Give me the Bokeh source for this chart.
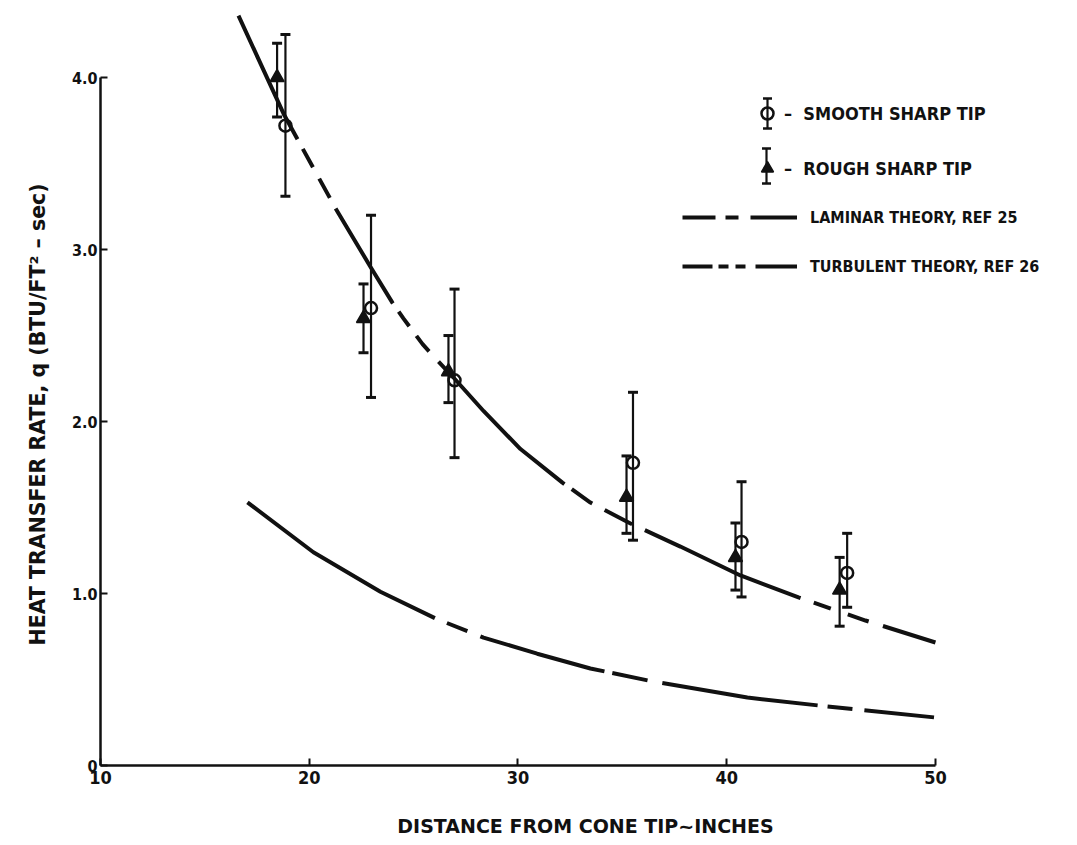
import numpy as np
from bokeh.plotting import figure
from bokeh.models import Range1d, FixedTicker, Legend, LegendItem, Arrow, TeeHead, Title
from bokeh.embed import file_html
from bokeh.resources import INLINE

# ---------------- data ----------------
smooth_x = [18.86, 22.96, 26.96, 35.51, 40.71, 45.77]
smooth_y = [3.72, 2.66, 2.24, 1.76, 1.30, 1.12]
smooth_hi = [4.25, 3.20, 2.77, 2.17, 1.65, 1.35]
smooth_lo = [3.31, 2.14, 1.79, 1.31, 0.98, 0.92]

rough_x = [18.46, 22.60, 26.67, 35.20, 40.42, 45.41]
rough_y = [4.00, 2.60, 2.29, 1.56, 1.21, 1.02]
rough_hi = [4.20, 2.80, 2.50, 1.80, 1.41, 1.21]
rough_lo = [3.77, 2.40, 2.11, 1.35, 1.02, 0.81]

turb_x = [16.61, 18.77, 19.49, 21.26, 22.93, 23.99, 24.51, 25.43, 26.14, 26.91, 28.36,
          30.12, 32.13, 33.47, 35.39, 37.78, 40.66, 43.44, 46.65, 50.0]
turb_y = [4.36, 3.79, 3.63, 3.24, 2.90, 2.69, 2.60, 2.45, 2.355, 2.256, 2.06,
          1.84, 1.645, 1.529, 1.407, 1.273, 1.105, 0.977, 0.843, 0.715]

lam_x = [17.04, 20.20, 23.41, 26.05, 28.35, 30.92, 33.47, 36.25, 40.99, 44.40, 50.0]
lam_y = [1.53, 1.24, 1.01, 0.855, 0.744, 0.65, 0.564, 0.494, 0.395, 0.349, 0.279]

x_ticks = [10, 20, 30, 40, 50]
y_ticks = [0, 1, 2, 3, 4]
y_tick_labels = {0: "0", 1: "1.0", 2: "2.0", 3: "3.0", 4: "4.0"}

FONT_C = "DejaVu Sans Condensed"
FONT = "DejaVu Sans"
INK = "#111111"

# dash sequences
TURB_DASH = "137 11 21 13 22 12 111 10 18 12 20 14 176 9 25 14 31 14 170 14 18 18 22 15 60 10"
LAM_DASH = "221 13 22 14 129 8 36 15 157 10 25 12 70 10"

p = figure(width=1077, height=845, x_range=Range1d(10, 56.47), y_range=Range1d(0, 4.419),
           output_backend="svg", toolbar_location=None,
           min_border_left=100, min_border_right=7, min_border_top=5, min_border_bottom=80)
p.outline_line_color = None
p.xgrid.visible = False
p.ygrid.visible = False
p.background_fill_color = "white"
p.border_fill_color = "white"

for ax in (p.xaxis[0], p.yaxis[0]):
    ax.axis_line_width = 2.5
    ax.axis_line_color = INK
    ax.major_tick_line_width = 2
    ax.major_tick_line_color = INK
    ax.major_tick_in = 7
    ax.major_tick_out = 0
    ax.minor_tick_line_color = None
    ax.major_label_text_font = FONT_C
    ax.major_label_text_font_style = "bold"
    ax.major_label_text_color = INK
    ax.axis_label_text_font = FONT
    ax.axis_label_text_font_style = "bold"
    ax.axis_label_text_color = INK

p.xaxis.major_label_text_font_size = "18px"
p.yaxis.major_label_text_font_size = "16px"
p.xaxis.bounds = (10, 50)
p.yaxis.bounds = (0, 4)
p.xaxis.ticker = FixedTicker(ticks=x_ticks)
p.yaxis.ticker = FixedTicker(ticks=y_ticks)
p.yaxis.major_label_overrides = y_tick_labels
p.xaxis.major_label_standoff = 5
p.yaxis.major_label_standoff = 3
p.xaxis.axis_label = "DISTANCE FROM CONE TIP~INCHES"
p.xaxis.axis_label_text_font_size = "19px"
p.xaxis.axis_label_standoff = 28

# y axis title as a side title (sits lower than the frame centre, like the reference)
p.add_layout(Title(text="HEAT TRANSFER RATE, q (BTU/FT\u00b2 \u2013 sec)",
                   align="left", offset=120, standoff=38,
                   text_font=FONT, text_font_style="bold", text_font_size="20.5px",
                   text_color=INK), "left")

# theory curves
p.line(turb_x, turb_y, line_width=4, line_color=INK, line_dash=TURB_DASH)
p.line(lam_x, lam_y, line_width=4, line_color=INK, line_dash=LAM_DASH)

# error bars
p.segment(rough_x, rough_lo, rough_x, rough_hi, line_width=2.2, line_color=INK)
p.segment(smooth_x, smooth_lo, smooth_x, smooth_hi, line_width=2.2, line_color=INK)
p.scatter(rough_x + rough_x, rough_lo + rough_hi, marker="dash", size=10, line_width=3, line_color=INK)
p.scatter(smooth_x + smooth_x, smooth_lo + smooth_hi, marker="dash", size=10, line_width=3, line_color=INK)

# markers
tri = p.scatter(rough_x, rough_y, marker="triangle", size=14, fill_color=INK, line_color=INK, line_width=1.5)
circ = p.scatter(smooth_x, smooth_y, marker="circle", size=12, fill_alpha=0, line_color=INK, line_width=2.5)

# legend proxies for the line styles (hidden renderers)
lg_lam = p.line(lam_x, lam_y, line_width=4, line_color=INK, line_dash="33 10 13 12 47 10", visible=False)
lg_turb = p.line(turb_x, turb_y, line_width=4, line_color=INK, line_dash="30 6 10 7 10 10 42 10", visible=False)

def style_legend(lg, size):
    lg.border_line_color = None
    lg.background_fill_alpha = 0
    lg.padding = 0
    lg.margin = 0
    lg.label_text_font = FONT_C
    lg.label_text_font_style = "bold"
    lg.label_text_font_size = size
    lg.label_text_color = INK
    lg.label_text_baseline = "middle"

leg_a = Legend(items=[LegendItem(label="\u2013  SMOOTH SHARP TIP", renderers=[circ]),
                      LegendItem(label="\u2013  ROUGH SHARP TIP", renderers=[tri])],
               location=(652, 580), glyph_width=30, glyph_height=34, label_height=34,
               spacing=21, label_standoff=2)
style_legend(leg_a, "18px")
leg_b = Legend(items=[LegendItem(label="LAMINAR THEORY, REF 25", renderers=[lg_lam]),
                      LegendItem(label="TURBULENT THEORY, REF 26", renderers=[lg_turb])],
               location=(582, 484), glyph_width=115, glyph_height=30, label_height=30,
               spacing=19, label_standoff=13)
style_legend(leg_b, "16px")
p.add_layout(leg_a)
p.add_layout(leg_b)

# error-bar sample for legend symbols (screen units)
for sx, y0, y1 in [(667, 637, 667), (666, 582, 617)]:
    p.add_layout(Arrow(x_start=sx, y_start=y0, x_end=sx, y_end=y1,
                       start_units="screen", end_units="screen",
                       start=TeeHead(size=9, line_width=2.5, line_color=INK),
                       end=TeeHead(size=9, line_width=2.5, line_color=INK),
                       line_width=2.2, line_color=INK))

open("out.html", "w").write(file_html(p, INLINE))
